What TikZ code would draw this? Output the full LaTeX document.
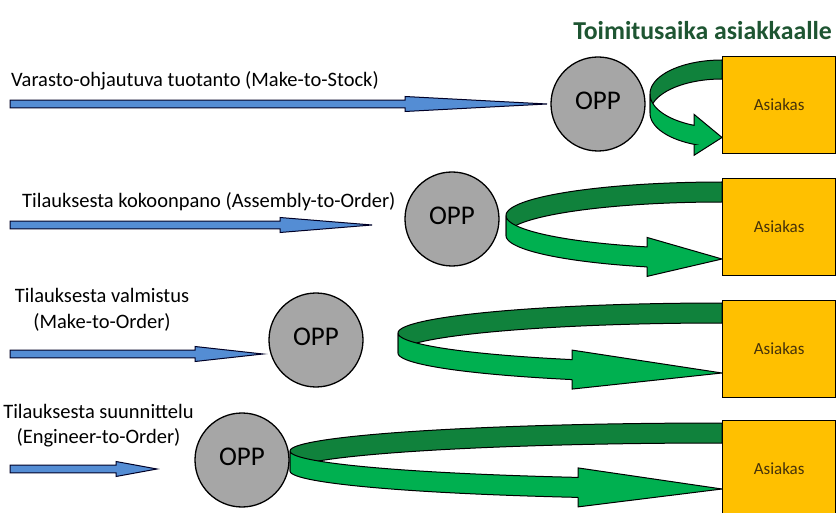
\documentclass[tikz,border=0pt]{standalone}
\usepackage{fontspec}
\setmainfont{Carlito}
\definecolor{arrowblue}{RGB}{84,141,212}
\definecolor{oppgray}{RGB}{166,166,166}
\definecolor{boxgold}{RGB}{255,192,0}
\definecolor{backgreen}{RGB}{16,130,60}
\definecolor{frontgreen}{RGB}{0,176,80}
\definecolor{titlegreen}{RGB}{30,85,50}
\definecolor{asiakastext}{RGB}{70,50,10}
\tikzset{
  bluearrow/.style={fill=arrowblue, draw=black!85!blue, line width=1pt, line join=miter},
  oppnode/.style={circle, draw=black, line width=1.3pt, fill=oppgray, minimum size=94pt, inner sep=0pt, font=\fontsize{27}{30}\selectfont},
  custbox/.style={rectangle, draw=black, line width=1.3pt, fill=boxgold, minimum width=113pt, minimum height=97pt, inner sep=0pt, font=\fontsize{17}{20}\selectfont, text=asiakastext},
  lbl/.style={font=\fontsize{20.5}{25}\selectfont, inner sep=0pt},
  backband/.style={fill=backgreen, draw=black, line width=1pt, line join=round},
  frontband/.style={fill=frontgreen, draw=black, line width=1pt, line join=miter},
}
% #1 y, #2 head start x, #3 tip x
\newcommand\myBlueArrow[3]{%
  \draw[bluearrow] (10,{#1-3.8}) -- (#2,{#1-3.8}) -- (#2,{#1-7.5}) -- (#3,#1) -- (#2,{#1+7.5}) -- (#2,{#1+3.8}) -- (10,{#1+3.8}) -- cycle;}
% #1 xc, #2 yc, #3 a, #4 b, #5 t, #6 head base x, #7 head extension
\newcommand\myGreenArrow[7]{%
  \pgfmathsetmacro\gth{360-acos((#6-#1)/#3)}%
  \pgfmathsetmacro\gyH{#2-#4*sin(\gth)}%
  \draw[backband] plot[domain=90:180,samples=60] ({#1+#3*cos(\x)},{#2-#4*sin(\x)})
     -- plot[domain=180:90,samples=60] ({#1+#3*cos(\x)},{#2+#5-#4*sin(\x)}) -- cycle;
  \draw[frontband] plot[domain=180:\gth,samples=60] ({#1+#3*cos(\x)},{#2-#4*sin(\x)})
     -- (#6,{\gyH-#7}) -- (#1,{#2+#4+#5/2}) -- (#6,{\gyH+#5+#7}) -- (#6,{\gyH+#5})
     -- plot[domain=\gth:180,samples=60] ({#1+#3*cos(\x)},{#2+#5-#4*sin(\x)}) -- cycle;}
\begin{document}
\begin{tikzpicture}[x=1pt,y=-1pt]
\useasboundingbox (0,0) rectangle (836,513);
\fill[white] (0,0) rectangle (836,513);

\node[font=\fontsize{25.8}{30}\selectfont\bfseries, text=titlegreen, anchor=base east, inner sep=0pt] (title) at (832,40) {Toimitusaika asiakkaalle};

% labels
\node[lbl, anchor=base west] (lbl1) at (11,87) {Varasto-ohjautuva tuotanto (Make-to-Stock)};
\node[lbl, anchor=base west] (lbl2) at (22,208) {Tilauksesta kokoonpano (Assembly-to-Order)};
\node[lbl, anchor=base] (lbl3a) at (102,303) {Tilauksesta valmistus};
\node[lbl, anchor=base] (lbl3b) at (102,328) {(Make-to-Order)};
\node[lbl, anchor=base] (lbl4a) at (98.5,418) {Tilauksesta suunnittelu};
\node[lbl, anchor=base] (lbl4b) at (98.5,443) {(Engineer-to-Order)};

% blue arrows
\myBlueArrow{104}{405}{547}
\myBlueArrow{225}{280}{372}
\myBlueArrow{354}{195}{263}
\myBlueArrow{469}{116}{157}

% green arrows
\myGreenArrow{722}{94}{72}{34}{19}{694}{11}
\myGreenArrow{722}{215.5}{216}{33.5}{20}{647}{9.5}
\myGreenArrow{722}{333}{324}{30}{20}{572}{9.5}
\myGreenArrow{722}{451}{432}{28}{20}{578}{9.5}

% OPP circles
\node[oppnode] (opp1) at (598,104) {\raisebox{7pt}{OPP}};
\node[oppnode] (opp2) at (452,219) {\raisebox{7pt}{OPP}};
\node[oppnode] (opp3) at (316,340) {\raisebox{7pt}{OPP}};
\node[oppnode] (opp4) at (242,460) {\raisebox{7pt}{OPP}};

% customer boxes
\node[custbox, anchor=north west] (cust1) at (722,56) {Asiakas};
\node[custbox, anchor=north west] (cust2) at (722,178) {Asiakas};
\node[custbox, anchor=north west] (cust3) at (722,300) {Asiakas};
\node[custbox, anchor=north west] (cust4) at (722,420) {Asiakas};
\end{tikzpicture}
\end{document}
